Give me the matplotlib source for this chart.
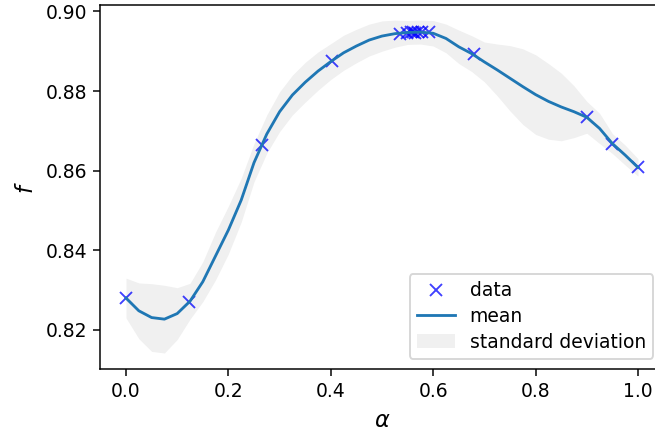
import matplotlib
matplotlib.use("Agg")
import matplotlib.pyplot as plt
import numpy as np

# observed points
alpha_data = [0.0, 0.124, 0.266, 0.403, 0.535, 0.548, 0.556, 0.561, 0.565,
              0.570, 0.578, 0.592, 0.679, 0.900, 0.950, 1.0]
f_data = [0.8280, 0.8271, 0.8664, 0.8876, 0.8944, 0.8946, 0.8947, 0.8947, 0.8946,
          0.8948, 0.8947, 0.8947, 0.8894, 0.8734, 0.8668, 0.8608]

# GP posterior
alpha_grid = [0.0, 0.025, 0.05, 0.075, 0.1, 0.125, 0.15, 0.175, 0.2, 0.225,
              0.25, 0.275, 0.3, 0.325, 0.35, 0.375, 0.4, 0.425, 0.45, 0.475,
              0.5, 0.525, 0.55, 0.575, 0.6, 0.625, 0.65, 0.675, 0.7, 0.725,
              0.75, 0.775, 0.8, 0.825, 0.85, 0.875, 0.9, 0.925, 0.95, 0.975, 1.0]
mean = [0.8280, 0.8248, 0.8231, 0.8227, 0.8241, 0.8272, 0.8321, 0.8386, 0.8451, 0.8526,
        0.8620, 0.8692, 0.8748, 0.8790, 0.8822, 0.8850, 0.8874, 0.8896, 0.8913, 0.8928,
        0.8938, 0.8944, 0.8947, 0.8948, 0.8945, 0.8932, 0.8911, 0.8894, 0.8873, 0.8853,
        0.8832, 0.8811, 0.8791, 0.8774, 0.8760, 0.8748, 0.8734, 0.8706, 0.8668, 0.8639, 0.8608]
std = [0.0050, 0.0070, 0.0085, 0.0085, 0.0065, 0.0045, 0.0050, 0.0060, 0.0060, 0.0055,
       0.0048, 0.0048, 0.0050, 0.0050, 0.0050, 0.0048, 0.0045, 0.0044, 0.0042, 0.0040,
       0.0038, 0.0034, 0.0030, 0.0030, 0.0032, 0.0036, 0.0042, 0.0045, 0.0050, 0.0065,
       0.0082, 0.0095, 0.0100, 0.0095, 0.0085, 0.0065, 0.0040, 0.0038, 0.0025, 0.0025, 0.0022]

mean = np.array(mean)
std = np.array(std)

fig = plt.figure(figsize=(655 / 135, 432 / 135), dpi=135)
ax = fig.add_axes([0.1533, 0.1451, 0.8598, 0.8433])

ax.plot(alpha_data, f_data, 'x', color='blue', alpha=0.75, label='data')
ax.plot(alpha_grid, mean, color='C0', label='mean')
ax.fill_between(alpha_grid, mean - std, mean + std, color='#f0f0f0',
                linewidth=0, label='standard deviation')

ax.set_xlim(-0.05, 1.05)
ax.set_ylim(0.8101, 0.9016)
ax.set_yticks([0.82, 0.84, 0.86, 0.88, 0.90])
ax.set_xlabel(r'$\alpha$', fontsize=12)
ax.set_ylabel(r'$f$', fontsize=12)
ax.legend(loc='lower right', labelspacing=0.35, borderaxespad=0.55)

fig.savefig('out.png', dpi=135)
